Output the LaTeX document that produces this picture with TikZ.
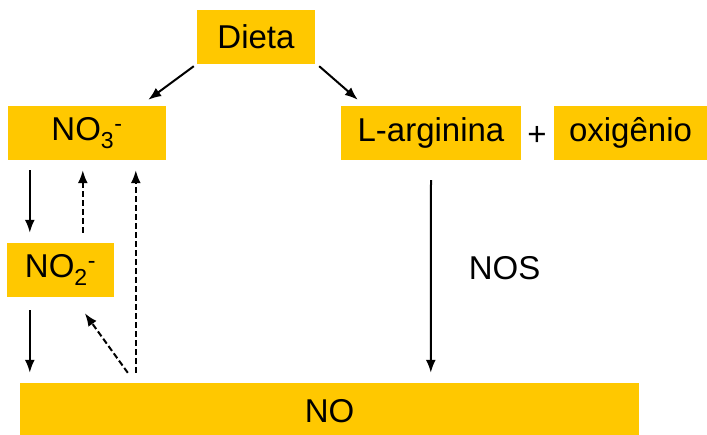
\documentclass[tikz,border=0pt]{standalone}
\usepackage{fontspec}
\setmainfont{Liberation Sans}
\usepackage{tikz}
\usetikzlibrary{arrows.meta}
\definecolor{boxyellow}{RGB}{255,200,0}

\begin{document}
\begin{tikzpicture}[x=1pt,y=-1pt,
    box/.style={fill=boxyellow, inner sep=0pt, font=\fontsize{33}{39}\selectfont},
    flow/.style={-{Latex[length=13pt,width=10pt]}, line width=2pt},
    back/.style={-{Latex[length=13pt,width=10pt]}, line width=2pt, dash pattern=on 6pt off 3pt}]
  \useasboundingbox (0,0) rectangle (707,434);
  \node[box, minimum width=118pt, minimum height=54pt] (dieta) at (256,37) {Dieta};
  \node[box, minimum width=158pt, minimum height=54pt] (no3) at (87,133) {NO\textsubscript{3}\textsuperscript{-}};
  \node[box, minimum width=180pt, minimum height=54pt] (larg) at (431,133) {L-arginina};
  \node[font=\fontsize{33}{39}\selectfont] (plus) at (537,136) {+};
  \node[box, minimum width=153pt, minimum height=54pt] (oxig) at (630.5,133) {oxigênio};
  \node[box, minimum width=107pt, minimum height=54pt] (no2) at (60.5,270) {NO\textsubscript{2}\textsuperscript{-}};
  \node[box, minimum width=619pt, minimum height=56pt] (no) at (329.5,411) {NO};
  \path[flow]
  ([shift={(-3,2)}]dieta.south west) edge ([shift={(-18,-6)}]no3.north east)
  ([shift={(4,2)}]dieta.south east) edge ([shift={(17,-6)}]larg.north west)
  ([shift={(22,10)}]no3.south west) edge ([shift={(23,-10)}]no2.north west)
  ([shift={(23,13)}]no2.south west) edge ([shift={(10,-10)}]no.north west)
  ([shift={(0,20)}]larg.south) edge node[pos=0.456, right=37pt, inner sep=0pt, font=\fontsize{33}{39}\selectfont] {NOS} ([shift={(411,-10)}]no.north west)
  ;
  \path[back]
  ([shift={(76,-10)}]no2.north west) edge ([shift={(75,10)}]no3.south west)
  ([shift={(116,-10)}]no.north west) edge ([shift={(128,10)}]no3.south west)
  ([shift={(108,-10)}]no.north west) edge ([shift={(78,16)}]no2.south west)
  ;
\end{tikzpicture}
\end{document}
